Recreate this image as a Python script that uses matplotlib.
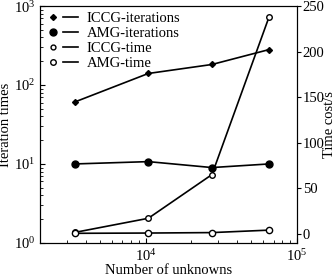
import matplotlib
matplotlib.use("Agg")
import matplotlib.pyplot as plt
from matplotlib.lines import Line2D
from matplotlib.legend_handler import HandlerTuple

plt.rcParams['font.family'] = ['Liberation Serif', 'DejaVu Serif']
plt.rcParams['mathtext.fontset'] = 'stix'

unknowns = [3400, 10400, 27400, 65300]
iccg_iter = [61, 140, 182, 281]
amg_iter = [10, 10.7, 9.0, 10]
iccg_time = [1.5, 17, 65, 238]
amg_time = [0.5, 0.8, 1.3, 4]

fig = plt.figure(figsize=(3.36, 2.76), dpi=100)
ax = fig.add_axes([0.119, 0.12, 0.765, 0.858])
ax2 = ax.twinx()

ax.plot(unknowns, iccg_iter, '-', color='black', lw=1.2, marker='D', ms=3, mfc='black')
ax.plot(unknowns, amg_iter, '-', color='black', lw=1.2, marker='o', ms=5, mfc='black')
ax2.plot(unknowns, iccg_time, '-', color='black', lw=1.2, marker='o', ms=4, mfc='white')
ax2.plot(unknowns, amg_time, '-', color='black', lw=1.2, marker='o', ms=4.5, mfc='white')

ax.set_xscale('log')
ax.set_yscale('log')
ax.set_xlim(2000, 1e5)
ax.set_ylim(1, 1000)
ax2.set_ylim(-10, 250)
ax2.set_yticks([0, 50, 100, 150, 200, 250])

ax.set_xlabel('Number of unknowns', fontsize=10.5, labelpad=0)
ax.set_ylabel('Iteration times', fontsize=10.5, labelpad=1)
ax2.set_ylabel('Time cost/s', fontsize=10.5, labelpad=-1)

ax.tick_params(which='both', direction='in', labelsize=10.5)
ax.tick_params(axis='y', which='both', right=False)
ax2.tick_params(direction='out', labelsize=10.5, length=3, pad=1)

def entry(marker, ms, mfc):
    m = Line2D([], [], ls='none', marker=marker, ms=ms, mfc=mfc, color='black')
    l = Line2D([], [], ls='-', color='black', lw=1.2)
    return (m, l)

handles = [entry('D', 3, 'black'), entry('o', 5, 'black'),
           entry('o', 3.5, 'white'), entry('o', 4, 'white')]
labels = ['ICCG-iterations', 'AMG-iterations', 'ICCG-time', 'AMG-time']
ax.legend(handles, labels, loc='upper left', frameon=False, fontsize=10.5,
          handler_map={tuple: HandlerTuple(ndivide=None, pad=0.2)},
          handlelength=2.2, handletextpad=0.6, labelspacing=0.12,
          borderpad=0.2, borderaxespad=0.2, bbox_to_anchor=(0.0, 1.0))

fig.savefig('out.png', dpi=100)
